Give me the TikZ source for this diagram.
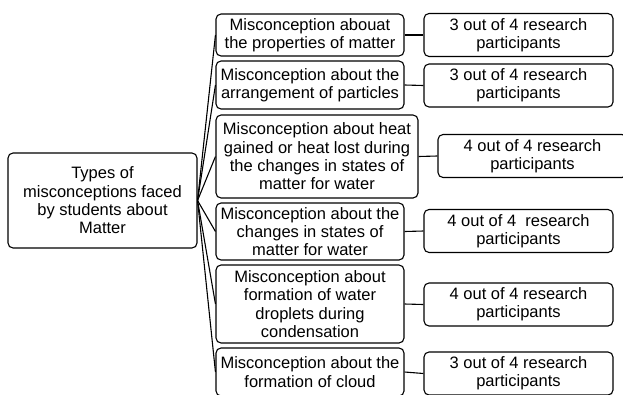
\documentclass[tikz,border=0pt]{standalone}
\usepackage{fontspec}
\setmainfont{Liberation Sans}
\newcommand{\outof}[1]{#1 research\\participants}

\begin{document}
\begin{tikzpicture}[x=1pt,y=-1pt,
  box/.style={draw,rounded corners=5pt,line width=1.1pt,align=center,inner sep=0.5pt,
    font=\fontsize{16.5}{18.3}\selectfont},
  kind/.style={box,minimum width=188pt},
  count/.style={box,minimum width=189pt,minimum height=43pt},
  link/.style={line width=1.1pt}]
\useasboundingbox (0,0) rectangle (623,394);

% the topic
\node[box,minimum width=189pt,minimum height=95pt] (root) at (102.5,200.5)
  {Types of\\misconceptions faced\\by students about\\Matter};

% kinds of misconception
\node[kind,minimum height=42pt] (prop) at (310,35) {Misconception abouat\\the properties of matter};
\node[kind,minimum height=48pt] (arr) at (310,85) {Misconception about the\\arrangement of particles};
\node[kind,minimum width=202pt,minimum height=83pt] (heat) at (317,156.5)
  {Misconception about heat\\gained or heat lost during\\the changes in states of\\matter for water};
\node[kind,minimum height=57pt] (chg) at (310,231.5) {Misconception about the\\changes in states of\\matter for water};
\node[kind,minimum height=78pt] (drop) at (310,304) {Misconception about\\formation of water\\droplets during\\condensation};
\node[kind,minimum height=48pt] (cloud) at (310,372) {Misconception about the\\formation of cloud};

% how many participants
\node[count] (nprop) at (518.5,35) {\outof{3 out of 4}};
\node[count] (narr) at (518.5,85.5) {\outof{3 out of 4}};
\node[count,minimum width=189pt] (nheat) at (532.5,156) {\outof{4 out of 4}};
\node[count] (nchg) at (518.5,231) {\outof{4 out of 4\ }};
\node[count] (ndrop) at (518.5,304.5) {\outof{4 out of 4}};
\node[count] (ncloud) at (518.5,373.5) {\outof{3 out of 4}};

\foreach \k in {prop,arr,heat,chg,drop,cloud}{
  \draw[link] (root.east) -- (\k.west);
  \draw[link] (\k.east) -- (n\k.west);
}
\end{tikzpicture}
\end{document}
